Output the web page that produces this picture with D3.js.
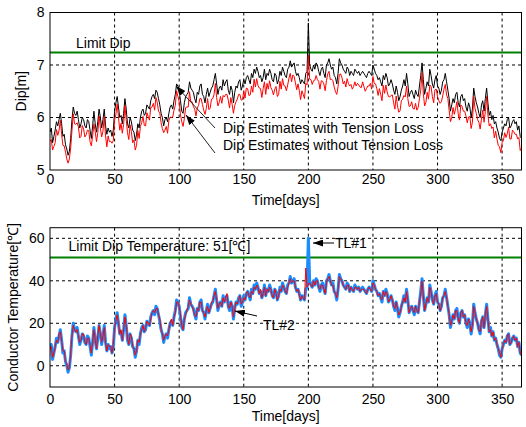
<!DOCTYPE html>
<html><head><meta charset="utf-8">
<script src="https://cdn.jsdelivr.net/npm/d3@7"></script>
<style>
body{margin:0;background:#fff}
text{font-family:"Liberation Sans",Arial,sans-serif;font-size:14px;fill:#000}
</style>
</head><body>
<svg id="c" width="526" height="427"></svg>
<script>
// ---- data (daily, day 0..365) ----
const days = d3.range(0, 366);
const xTicks = [0,50,100,150,200,250,300,350];
const dipTicks = [5,6,7,8];
const tempTicks = [0,20,40,60];
const limitDip = 7.24;
const limitTemp = 51;

const tempBlue = [
 8,10,3,6,9,13,11,14,17,12, 6,7,2,0,-3,-1,5,14,20,17, 16,18,14,10,12,15,14,11,10,14,
 13,9,5,11,18,12,8,13,19,15, 10,14,19,11,7,10,8,9,6,9, 18,22,25,20,15,16,12,17,24,19,
 12,10,15,13,9,8,4,7,12,10, 15,18,19,16,17,21,20,19,23,25, 26,24,28,27,24,21,17,15,11,14,
 15,13,17,20,21,19,23,26,31,30, 28,23,18,17,22,25,26,27,32,29, 28,27,24,22,27,26,30,31,26,25,
 22,26,29,25,27,29,30,33,36,31, 26,29,30,28,33,30,32,33,28,26, 30,28,22,27,30,29,32,33,28,30,
 33,31,34,35,33,31,36,34,38,36, 39,37,34,35,32,34,38,33,36,35, 38,36,33,32,36,35,31,33,37,35,
 39,37,35,34,38,39,42,39,40,41, 37,35,36,34,31,33,32,31,36,37, 60,40,38,37,40,38,41,40,37,35,
 38,39,36,34,40,41,43,40,38,39, 35,34,31,36,43,41,40,38,37,36, 39,38,35,37,36,35,38,37,36,37,
 35,36,37,36,35,34,36,37,36,35, 40,38,36,35,33,34,32,30,35,33, 36,34,30,31,33,31,28,26,30,27,
 23,25,28,30,33,30,36,31,25,27, 28,26,24,28,26,25,30,35,41,33, 26,29,32,30,38,35,31,29,33,35,
 30,29,26,28,32,33,36,32,28,24, 18,21,24,22,26,27,22,20,25,26, 23,24,20,18,22,20,15,19,29,25,
 22,20,17,15,21,23,18,24,29,22, 16,18,14,16,12,13,10,8,5,4, 8,10,12,11,14,15,10,11,13,14,
 12,13,9,11,6,5];

const tempRed = [
 8,9,4,6,9,12,11,15,16,12, 7,7,2,1,-2,-1,6,14,19,17, 16,17,14,11,12,15,15,11,10,13,
 13,10,6,11,17,12,8,14,19,15, 11,14,18,11,7,10,9,9,6,10, 18,21,24,20,15,17,12,17,23,19,
 13,10,15,14,9,8,5,7,12,11, 15,17,19,16,18,21,20,19,22,25, 26,25,27,27,24,22,17,15,12,14,
 15,14,17,20,22,19,23,25,30,30, 28,24,19,17,22,24,26,28,31,29, 28,26,24,23,27,26,30,30,26,25,
 23,26,28,25,27,30,30,33,35,31, 27,29,30,28,32,30,32,34,28,27, 30,28,23,27,30,29,31,33,29,30,
 32,31,34,35,33,32,35,34,37,36, 38,37,34,36,32,34,37,33,36,35, 37,36,33,32,36,34,31,33,36,35,
 38,37,35,34,37,39,41,39,40,40, 37,35,36,33,31,33,32,31,46,37, 38,39,38,37,40,38,40,40,37,36,
 38,38,36,34,39,41,42,40,38,38, 35,34,32,36,42,41,40,38,37,36, 38,38,35,37,36,35,37,37,36,37,
 35,36,36,36,35,34,36,37,36,35, 39,38,36,35,33,34,32,31,35,33, 35,34,30,31,33,31,28,27,30,27,
 24,25,28,30,32,30,35,31,25,27, 28,26,25,28,26,25,30,34,40,33, 26,29,32,30,37,35,31,29,33,34,
 30,29,26,28,32,33,35,32,28,24, 19,21,24,22,26,26,22,20,25,26, 23,24,20,19,22,20,16,19,28,25,
 22,20,17,16,21,23,18,24,28,22, 16,17,14,16,12,13,10,8,6,4, 8,10,12,11,14,15,10,11,13,14,
 12,13,9,11,6,5];

const dipBlack = [
 5.72,5.80,5.52,5.64,5.76,5.92,5.84,5.96,6.08,5.88, 5.64,5.68,5.48,5.40,5.28,5.36,5.60,5.96,6.20,6.08,
 6.04,6.12,5.96,5.80,5.88,6.00,5.96,5.84,5.80,5.96, 5.92,5.76,5.60,5.84,6.12,5.88,5.72,5.92,6.16,6.00,
 5.80,5.96,6.16,5.84,5.68,5.80,5.72,5.76,5.64,5.76, 6.12,6.28,6.40,6.20,6.00,6.04,5.88,6.08,6.36,6.16,
 5.88,5.80,6.00,5.92,5.76,5.72,5.56,5.68,5.88,5.80, 6.00,6.12,6.16,6.04,6.08,6.24,6.20,6.16,6.32,6.40,
 6.44,6.36,6.52,6.48,6.36,6.24,6.08,6.00,5.84,5.96, 6.00,5.92,6.08,6.20,6.24,6.16,6.32,6.44,6.64,6.60,
 6.52,6.32,6.12,6.08,6.28,6.40,6.44,6.48,6.68,6.56, 6.52,6.48,6.36,6.28,6.48,6.44,6.60,6.64,6.44,6.40,
 6.28,6.44,6.56,6.40,6.48,6.56,6.60,6.72,6.84,6.64, 6.44,6.56,6.60,6.52,6.72,6.60,6.68,6.72,6.52,6.44,
 6.60,6.52,6.28,6.48,6.60,6.56,6.68,6.72,6.52,6.60, 6.72,6.64,6.76,6.80,6.72,6.64,6.84,6.76,6.92,6.84,
 6.96,6.88,6.76,6.80,6.68,6.76,6.92,6.72,6.84,6.80, 6.92,6.84,6.72,6.68,6.84,6.80,6.64,6.72,6.88,6.80,
 6.96,6.88,6.80,6.76,6.92,6.96,7.08,6.96,7.00,7.04, 6.88,6.80,6.84,6.76,6.64,6.72,6.68,6.64,6.84,6.88,
 7.80,7.00,6.92,6.88,7.00,6.92,7.04,7.00,6.88,6.80, 6.92,6.96,6.84,6.76,7.00,7.04,7.12,7.00,6.92,6.96,
 6.80,6.76,6.64,6.84,7.12,7.04,7.00,6.92,6.88,6.84, 6.96,6.92,6.80,6.88,6.84,6.80,6.92,6.88,6.84,6.88,
 6.80,6.84,6.88,6.84,6.80,6.76,6.84,6.88,6.84,6.80, 7.00,6.92,6.84,6.80,6.72,6.76,6.68,6.60,6.80,6.72,
 6.84,6.76,6.60,6.64,6.72,6.64,6.52,6.44,6.60,6.48, 6.32,6.40,6.52,6.60,6.72,6.60,6.84,6.64,6.40,6.48,
 6.52,6.44,6.36,6.52,6.44,6.40,6.60,6.80,7.04,6.72, 6.44,6.56,6.68,6.60,6.92,6.80,6.64,6.56,6.72,6.80,
 6.60,6.56,6.44,6.52,6.68,6.72,6.84,6.68,6.52,6.36, 6.12,6.24,6.36,6.28,6.44,6.48,6.28,6.20,6.40,6.44,
 6.32,6.36,6.20,6.12,6.28,6.20,6.00,6.16,6.56,6.40, 6.28,6.20,6.08,6.00,6.24,6.32,6.12,6.36,6.56,6.28,
 6.04,6.12,5.96,6.04,5.88,5.92,5.80,5.72,5.60,5.56, 5.72,5.80,5.88,5.84,5.96,6.00,5.80,5.84,5.92,5.96,
 5.88,5.92,5.76,5.84,5.64,5.60];

const dipRed = [
 5.55,5.58,5.38,5.45,5.52,5.77,5.66,5.75,5.95,5.68, 5.47,5.46,5.34,5.21,5.13,5.21,5.42,5.75,6.07,5.88,
 5.87,5.90,5.82,5.61,5.64,5.85,5.78,5.63,5.67,5.76, 5.75,5.54,5.46,5.65,5.88,5.73,5.54,5.71,6.03,5.80,
 5.63,5.74,6.02,5.65,5.44,5.65,5.54,5.55,5.51,5.56, 5.95,6.06,6.26,6.01,5.76,5.89,5.70,5.87,6.23,5.96,
 5.71,5.58,5.86,5.73,5.52,5.57,5.38,5.47,5.75,5.60, 5.83,5.90,6.02,5.85,5.84,6.09,6.02,5.95,6.19,6.20,
 6.27,6.14,6.38,6.29,6.12,6.09,5.90,5.79,5.71,5.76, 5.83,5.70,5.94,6.01,6.00,6.01,6.14,6.23,6.51,6.40,
 6.30,6.05,5.92,5.83,5.98,6.19,6.20,6.20,6.49,6.30, 6.30,6.21,6.16,6.03,6.18,6.23,6.36,6.36,6.25,6.14,
 6.06,6.17,6.36,6.15,6.18,6.35,6.36,6.44,6.65,6.38, 6.22,6.29,6.40,6.27,6.42,6.39,6.44,6.44,6.33,6.18,
 6.38,6.25,6.08,6.23,6.30,6.35,6.44,6.44,6.33,6.34, 6.50,6.37,6.56,6.55,6.42,6.43,6.60,6.48,6.73,6.58,
 6.74,6.61,6.56,6.55,6.38,6.55,6.68,6.44,6.65,6.54, 6.70,6.57,6.52,6.43,6.54,6.59,6.40,6.44,6.69,6.54,
 6.74,6.61,6.60,6.51,6.62,6.75,6.84,6.68,6.81,6.78, 6.66,6.53,6.64,6.51,6.34,6.51,6.44,6.36,6.65,6.62,
 7.19,6.73,6.72,6.63,6.70,6.71,6.80,6.72,6.69,6.54, 6.70,6.69,6.64,6.51,6.70,6.83,6.88,6.72,6.73,6.70,
 6.58,6.49,6.44,6.59,6.82,6.83,6.76,6.64,6.69,6.58, 6.74,6.65,6.60,6.63,6.54,6.59,6.68,6.60,6.65,6.62,
 6.58,6.57,6.68,6.59,6.50,6.55,6.60,6.60,6.65,6.54, 6.78,6.65,6.64,6.55,6.42,6.55,6.44,6.32,6.61,6.46,
 6.62,6.49,6.40,6.39,6.42,6.43,6.28,6.16,6.41,6.22, 6.10,6.13,6.32,6.35,6.42,6.39,6.60,6.36,6.21,6.22,
 6.30,6.17,6.16,6.27,6.14,6.19,6.36,6.52,6.85,6.46, 6.22,6.29,6.48,6.35,6.62,6.59,6.40,6.28,6.53,6.54,
 6.40,6.32,6.27,6.30,6.41,6.54,6.63,6.43,6.36,6.13, 5.92,6.00,6.19,6.06,6.17,6.30,6.07,5.95,6.24,6.21,
 6.12,6.12,6.03,5.90,6.01,6.02,5.79,5.91,6.40,6.17, 6.08,5.96,5.91,5.78,5.97,6.14,5.91,6.11,6.40,6.05,
 5.84,5.88,5.79,5.82,5.61,5.74,5.59,5.47,5.44,5.33, 5.52,5.56,5.71,5.62,5.69,5.82,5.59,5.59,5.76,5.73,
 5.68,5.68,5.59,5.62,5.37,5.42];

// ---- layout ----
const svg = d3.select('#c');
const X0 = 50, X1 = 521.5;
const x = d3.scaleLinear().domain([0,365]).range([X0,X1]);
const yDip = d3.scaleLinear().domain([5,8]).range([170,12.5]);
const yT = d3.scaleLinear().domain([-10,65]).range([387,227.7]);

const defs = svg.append('defs');
defs.append('marker').attr('id','ah').attr('viewBox','0 0 10 7')
  .attr('refX',10).attr('refY',3.5).attr('markerWidth',10).attr('markerHeight',7)
  .attr('markerUnits','userSpaceOnUse').attr('orient','auto')
  .append('path').attr('d','M0,0L10,3.5L0,7Z').attr('fill','#000');

function panel(id, y, yTicks, padBottom){
  const [yb, yt] = y.range();
  defs.append('clipPath').attr('id','clip'+id).append('rect')
    .attr('x',X0).attr('y',yt).attr('width',X1-X0).attr('height',yb-yt);
  const g = svg.append('g');
  g.selectAll('.vg').data(xTicks.filter(t=>t>0)).join('line')
    .attr('x1',d=>x(d)).attr('x2',d=>x(d)).attr('y1',yt).attr('y2',yb)
    .attr('stroke','#000').attr('stroke-width',1).attr('stroke-dasharray','3,3');
  g.selectAll('.hg').data(yTicks.filter(t=>t>y.domain()[0] && t<y.domain()[1])).join('line')
    .attr('x1',X0).attr('x2',X1).attr('y1',d=>y(d)).attr('y2',d=>y(d))
    .attr('stroke','#000').attr('stroke-width',1).attr('stroke-dasharray','3,3');
  const ax = g.append('g').attr('transform',`translate(0,${yb})`)
    .call(d3.axisBottom(x).tickValues(xTicks).tickSize(0).tickPadding(padBottom));
  const ay = g.append('g').attr('transform',`translate(${X0},0)`)
    .call(d3.axisLeft(y).tickValues(yTicks).tickSize(0).tickPadding(5.5).tickFormat(d3.format('d')));
  [ax,ay].forEach(a=>{a.select('.domain').remove();
    a.selectAll('text').attr('font-family','"Liberation Sans",Arial,sans-serif').attr('font-size',14).attr('fill','#000');});
  const data = g.append('g').attr('clip-path',`url(#clip${id})`);
  return {g, data, yt, yb};
}

function line(y, vals){
  return d3.line().x((d,i)=>x(days[i])).y(d=>y(d))(vals);
}

// ---- top panel ----
const p1 = panel(1, yDip, dipTicks, 4);
p1.data.append('line').attr('x1',X0).attr('x2',X1).attr('y1',yDip(limitDip)).attr('y2',yDip(limitDip))
  .attr('stroke','#008000').attr('stroke-width',2);
p1.data.append('path').attr('d',line(yDip,dipBlack)).attr('fill','none').attr('stroke','#000').attr('stroke-width',1);
p1.data.append('path').attr('d',line(yDip,dipRed)).attr('fill','none').attr('stroke','#ff0000').attr('stroke-width',1);
p1.g.append('rect').attr('x',X0).attr('y',p1.yt).attr('width',X1-X0).attr('height',p1.yb-p1.yt)
  .attr('fill','none').attr('stroke','#000').attr('stroke-width',1);
svg.append('text').attr('x',76).attr('y',48).text('Limit Dip');
svg.append('text').attr('x',223).attr('y',133).text('Dip Estimates with Tension Loss');
svg.append('text').attr('x',223).attr('y',150).text('Dip Estimates without Tension Loss');
svg.append('line').attr('x1',215).attr('y1',128).attr('x2',176).attr('y2',86)
  .attr('stroke','#222').attr('stroke-width',1).attr('marker-end','url(#ah)');
svg.append('line').attr('x1',215).attr('y1',153).attr('x2',186).attr('y2',115)
  .attr('stroke','#222').attr('stroke-width',1).attr('marker-end','url(#ah)');
svg.append('text').attr('x',(X0+X1)/2).attr('y',205).attr('text-anchor','middle').text('Time[days]');
svg.append('text').attr('transform',`translate(25.5,${(yDip.range()[0]+yDip.range()[1])/2}) rotate(-90)`)
  .attr('text-anchor','middle').text('Dip[m]');

// ---- bottom panel ----
const p2 = panel(2, yT, tempTicks, 7.5);
p2.data.append('line').attr('x1',X0).attr('x2',X1).attr('y1',yT(limitTemp)).attr('y2',yT(limitTemp))
  .attr('stroke','#008000').attr('stroke-width',2);
p2.data.append('path').attr('d',line(yT,tempBlue)).attr('fill','none').attr('stroke','#1a8cff').attr('stroke-width',3).attr('stroke-linejoin','round');
p2.data.append('path').attr('d',line(yT,tempRed)).attr('fill','none').attr('stroke','#ff0000').attr('stroke-width',1);
p2.g.append('rect').attr('x',X0).attr('y',p2.yt).attr('width',X1-X0).attr('height',p2.yb-p2.yt)
  .attr('fill','none').attr('stroke','#000').attr('stroke-width',1);
svg.append('text').attr('x',68.5).attr('y',250.5).text('Limit Dip Temperature: 51[℃]');
svg.append('text').attr('x',335).attr('y',248).text('TL#1');
svg.append('line').attr('x1',334).attr('y1',243).attr('x2',313).attr('y2',243)
  .attr('stroke','#000').attr('stroke-width',1).attr('marker-end','url(#ah)');
svg.append('text').attr('x',263).attr('y',330).text('TL#2');
svg.append('line').attr('x1',257).attr('y1',316).attr('x2',235).attr('y2',311)
  .attr('stroke','#000').attr('stroke-width',1).attr('marker-end','url(#ah)');
svg.append('text').attr('x',(X0+X1)/2).attr('y',421).attr('text-anchor','middle').text('Time[days]');
svg.append('text').attr('transform',`translate(17.5,${(yT.range()[0]+yT.range()[1])/2}) rotate(-90)`)
  .attr('text-anchor','middle').text('Conductor Temperature[℃]');
</script>
</body></html>
